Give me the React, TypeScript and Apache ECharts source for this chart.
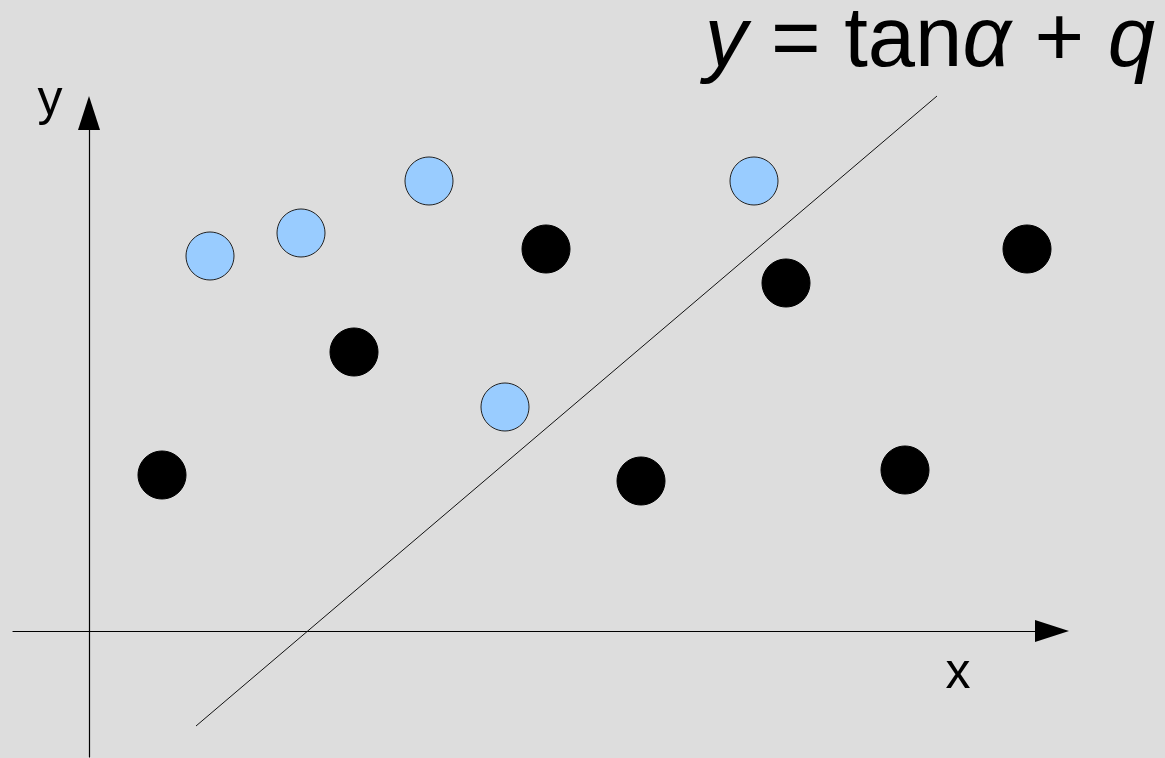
import React, { useEffect, useRef } from "react";
import * as echarts from "echarts";

// Data in plot units (origin at the axes' crossing)
const blackPoints: [number, number][] = [
  [1.46, 3.12],
  [5.3, 5.58],
  [9.14, 7.64],
  [11.04, 3.0],
  [13.94, 6.96],
  [16.32, 3.22],
  [18.76, 7.64],
];
const bluePoints: [number, number][] = [
  [2.42, 7.5],
  [4.24, 7.96],
  [6.8, 9.0],
  [8.32, 4.48],
  [13.3, 9.0],
];
const separatorLine: [number, number][] = [
  [2.14, -1.9],
  [16.96, 10.7],
];
const xRange = [-1.52, 19.26];
const yRange = [-2.52, 10.36];
const xLabel = "x";
const yLabel = "y";

export default function App() {
  const ref = useRef<HTMLDivElement>(null);
  useEffect(() => {
    document.body.style.margin = "0";
    document.body.style.background = "#dddddd";
    const chart = echarts.init(ref.current!, null, { renderer: "svg" });
    const axisCommon = {
      type: "value" as const,
      axisLine: {
        show: true,
        onZero: true,
        symbol: ["none", "triangle"],
        symbolSize: [22, 34],
        lineStyle: { color: "#000", width: 1.2 },
      },
      axisTick: { show: false },
      axisLabel: { show: false },
      splitLine: { show: false },
    };
    chart.setOption({
      animation: false,
      backgroundColor: "#dddddd",
      grid: { left: 13, right: 113, top: 113, bottom: 1 },
      xAxis: { ...axisCommon, min: xRange[0], max: xRange[1] },
      yAxis: { ...axisCommon, min: yRange[0], max: yRange[1] },
      series: [
        {
          type: "line",
          data: separatorLine,
          clip: false,
          symbol: "none",
          lineStyle: { color: "#111", width: 1 },
          silent: true,
        },
        {
          type: "scatter",
          data: blackPoints,
          symbol: "circle",
          symbolSize: 48,
          itemStyle: { color: "#000", borderColor: "#000", borderWidth: 1, opacity: 1 },
        },
        {
          type: "scatter",
          data: bluePoints,
          symbol: "circle",
          symbolSize: 48,
          itemStyle: { color: "#99ccff", borderColor: "#222", borderWidth: 1, opacity: 1 },
        },
      ],
      graphic: [
        {
          type: "text",
          x: 50,
          y: 98,
          style: {
            text: yLabel,
            fontSize: 50,
            fontFamily: "Liberation Sans",
            fill: "#000",
            textAlign: "center",
            textVerticalAlign: "middle",
          },
        },
        {
          type: "text",
          x: 958,
          y: 671,
          style: {
            text: xLabel,
            fontSize: 50,
            fontFamily: "Liberation Sans",
            fill: "#000",
            textAlign: "center",
            textVerticalAlign: "middle",
          },
        },
        {
          type: "text",
          x: 1155,
          y: 36,
          style: {
            text: "{i|y} = tan{i|α} + {i|q}",
            fontSize: 85,
            lineHeight: 70,
            fontFamily: "Liberation Sans",
            fill: "#000",
            textAlign: "right",
            textVerticalAlign: "middle",
            rich: {
              i: {
                fontStyle: "italic",
                fontSize: 85,
                lineHeight: 70,
                fontFamily: "Liberation Sans",
                fill: "#000",
              },
            },
          },
        },
      ],
    });
    return () => chart.dispose();
  }, []);
  return (
    <div
      ref={ref}
      style={{ position: "fixed", left: 0, top: 0, width: 1165, height: 758 }}
    />
  );
}
